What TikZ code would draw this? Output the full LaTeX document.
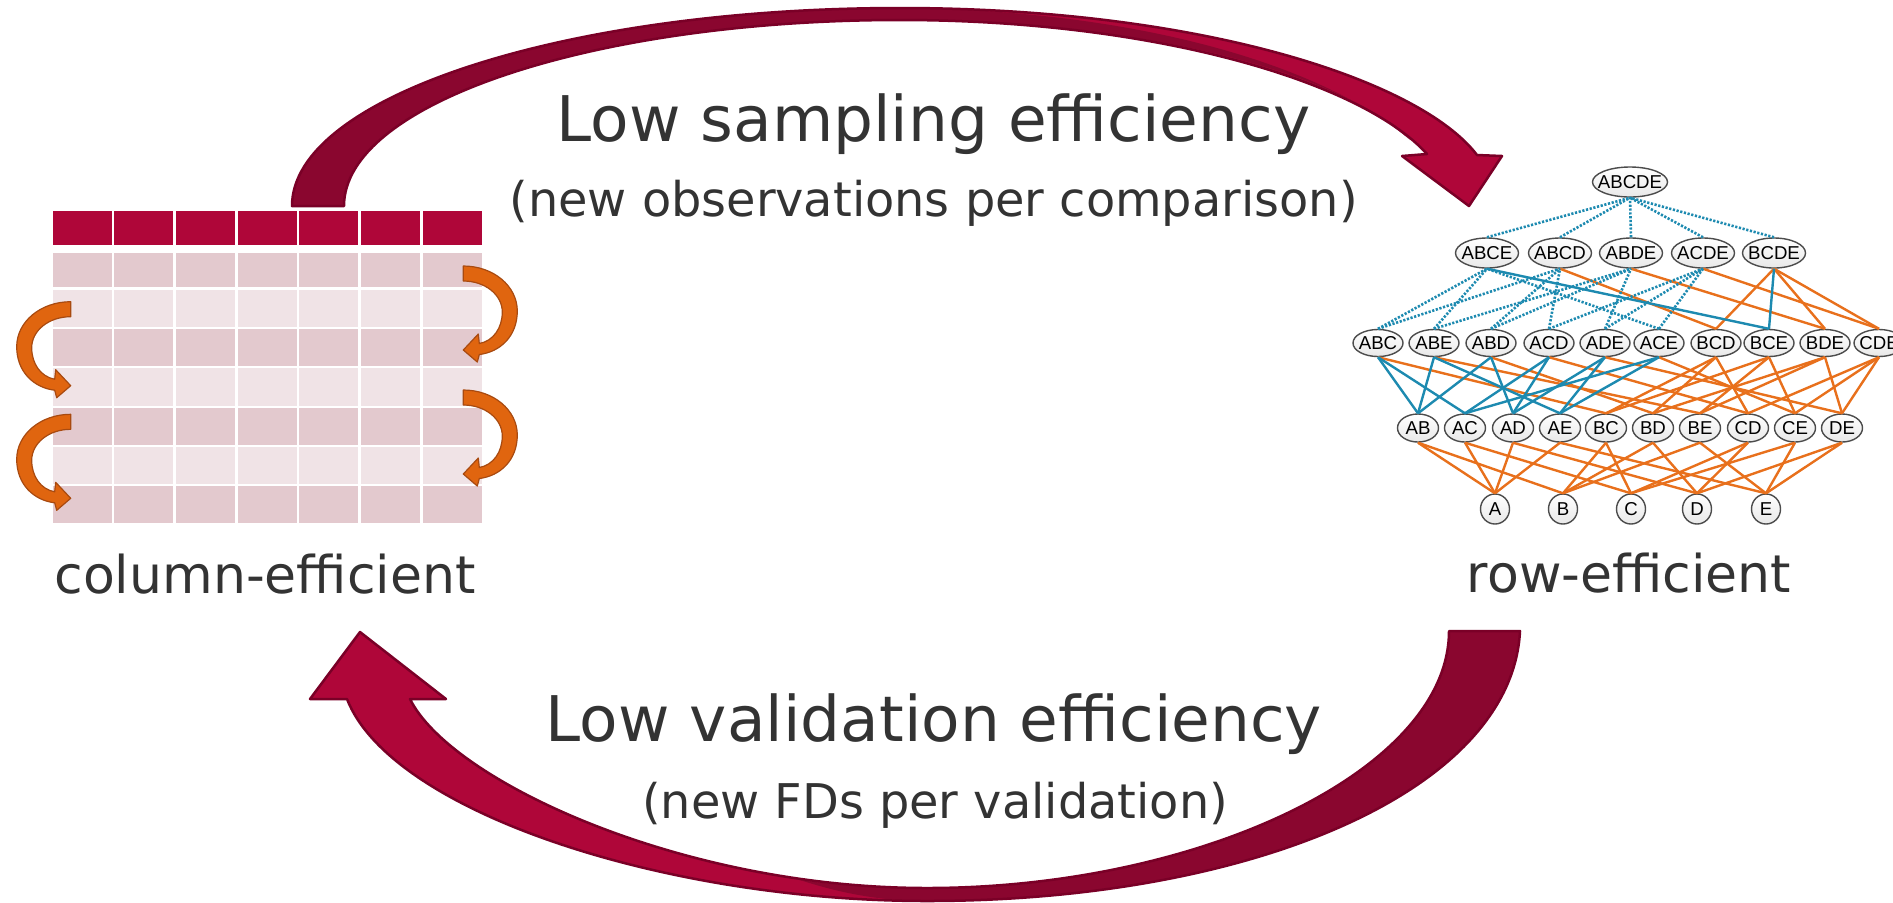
\documentclass[tikz,border=0pt]{standalone}
\usepackage{fontspec}
\setmainfont{DejaVu Sans}
\newfontfamily\latfont{Liberation Sans}
\usepackage{tikz}
\usetikzlibrary{shapes.geometric}
\definecolor{Crimson}{HTML}{AF0639}
\definecolor{CrimsonDark}{HTML}{8A062F}
\definecolor{CrimsonEdge}{HTML}{7A0027}
\definecolor{RowDark}{HTML}{E3C9CE}
\definecolor{RowLight}{HTML}{F0E3E6}
\definecolor{Turn}{HTML}{E0650F}
\definecolor{TurnEdge}{HTML}{A84A10}
\definecolor{LatOrange}{HTML}{E8701C}
\definecolor{LatBlue}{HTML}{1D8AB0}
\definecolor{TextGray}{HTML}{333333}
\newcommand{\lname}[1]{\makebox[0pt]{#1}}
\newcommand{\samplingarrow}{(292,206) .. controls (292,97) and (564,8) .. (900,8)
  .. controls (1200,8) and (1420,80) .. (1477,155) -- (1502,156) -- (1469,206)
  -- (1402,156) -- (1427,154) .. controls (1360,80) and (1150,20) .. (900,20)
  .. controls (593,20) and (344,103) .. (344,206) -- cycle}
\newcommand{\validationarrow}{(1520,631) .. controls (1512,790) and (1254,901) .. (927,901)
  .. controls (660,901) and (390,810) .. (347,699) -- (310,699) -- (360,632)
  -- (446,699) -- (410,699) .. controls (450,780) and (680,888) .. (927,888)
  .. controls (1200,888) and (1449,770) .. (1449,631) -- cycle}

\begin{document}
\begin{tikzpicture}[
  x=0.01cm, y=-0.01cm,
  every node/.style={inner sep=0pt, text=TextGray},
  bigtext/.style={font=\fontsize{17.9}{21}\selectfont, anchor=base},
  smalltext/.style={font=\fontsize{13.6}{16}\selectfont, anchor=base},
  sidetext/.style={font=\fontsize{14.8}{18}\selectfont, anchor=base},
  rim/.style={draw=CrimsonEdge, line width=0.025cm, line join=round},
  turn/.style={fill=Turn, draw=TurnEdge, line width=0.012cm, line join=round},
  latnode/.style={
    ellipse,
    draw=black!70,
    line width=0.014cm,
    top color=white,
    bottom color=black!9,
    text=black,
    font=\latfont\fontsize{5.3}{6}\selectfont
  },
  lat1/.style={latnode, minimum width=0.29cm, minimum height=0.30cm},
  lat2/.style={latnode, minimum width=0.41cm, minimum height=0.28cm},
  lat3/.style={latnode, minimum width=0.50cm, minimum height=0.27cm},
  lat4/.style={latnode, minimum width=0.63cm, minimum height=0.30cm},
  lat5/.style={latnode, minimum width=0.75cm, minimum height=0.30cm},
  oredge/.style={draw=LatOrange, line width=0.024cm},
  bledge/.style={draw=LatBlue, line width=0.024cm},
  dotedge/.style={draw=LatBlue, line width=0.026cm, dash pattern=on 0.022cm off 0.016cm}
]
\useasboundingbox (0,0) rectangle (1893,902);
\clip (0,0) rectangle (1893,902);

% Tableau
\foreach \c in {0,...,6}
  \fill[Crimson] (52.7+61.67*\c,211) rectangle (111.7+61.67*\c,245);
\foreach \ya/\yb/\tone in {252.7/287.3/RowDark, 289.6/326.8/RowLight,
    329/366.2/RowDark, 368.3/405.5/RowLight, 407.6/444.8/RowDark,
    447/484.2/RowLight, 486.3/522.7/RowDark}
  \foreach \c in {0,...,6}
    \fill[\tone] (52.7+61.67*\c,\ya) rectangle (111.7+61.67*\c,\yb);

% Petites flèches orange
\foreach \xa/\ya/\s in {70.7/301.7/1, 70.7/414.3/1, 463.3/266/-1, 463.3/390/-1}
  \filldraw[turn, shift={(\xa,\ya)}, xscale=\s]
    (0,0) .. controls (-30,0) and (-54,20) .. (-54,45)
    .. controls (-54,70) and (-37,86) .. (-16,88.5)
    -- (-14,96) -- (0,84) -- (-15,68) -- (-16,77.5)
    .. controls (-30,75) and (-39,62) .. (-39,46)
    .. controls (-39,29) and (-22,15) .. (0,15) -- cycle;

% Grande flèche du haut
\fill[Crimson] \samplingarrow;
\fill[CrimsonDark] (292,206) .. controls (292,97) and (564,8) .. (900,8)
  .. controls (1150,10) and (1330,70) .. (1410,140)
  .. controls (1345,75) and (1150,20) .. (900,20)
  .. controls (593,20) and (344,103) .. (344,206) -- cycle;
\draw[rim] \samplingarrow;

% Grande flèche du bas
\fill[Crimson] \validationarrow;
\fill[CrimsonDark] (1449,631) -- (1520,631)
  .. controls (1512,790) and (1254,901) .. (927,901)
  .. controls (880,901) and (840,893) .. (800,880)
  .. controls (840,886) and (885,888) .. (927,888)
  .. controls (1200,888) and (1449,770) .. (1449,631) -- cycle;
\draw[rim] \validationarrow;

% Textes
\node[bigtext] (low1) at (933.5,141) {Low sampling efficiency};
\node[smalltext] (sub1) at (933.5,216) {(new observations per comparison)};
\node[bigtext] (low2) at (934,741) {Low validation efficiency};
\node[smalltext] (sub2) at (935,818) {(new FDs per validation)};
\node[sidetext] (colname) at (265,593) {column-efficient};
\node[sidetext] (rowname) at (1629,592) {row-efficient};

% Treillis
\node[lat5] (ABCDE) at (1630,182) {\lname{ABCDE}};
\foreach \n/\xa in {ABCE/1487, ABCD/1560, ABDE/1631, ACDE/1703, BCDE/1774}
  \node[lat4] (\n) at (\xa,253) {\lname{\n}};
\foreach \n/\xa in {ABC/1378, ABE/1434, ABD/1491, ACD/1549, ADE/1605,
    ACE/1659, BCD/1716, BCE/1769, BDE/1825, CDE/1879}
  \node[lat3] (\n) at (\xa,343) {\lname{\n}};
\foreach \n/\xa in {AB/1418, AC/1465, AD/1513, AE/1560, BC/1606,
    BD/1653, BE/1700, CD/1748, CE/1795, DE/1842}
  \node[lat2] (\n) at (\xa,428) {\lname{\n}};
\foreach \n/\xa in {A/1495, B/1563, C/1631, D/1697, E/1766}
  \node[lat1] (\n) at (\xa,509) {\lname{\n}};

% Arêtes
\foreach \lo/\hi in {A/AB, A/AC, A/AD, A/AE, B/AB, B/BC, B/BD, B/BE,
    C/AC, C/BC, C/CD, C/CE, D/AD, D/BD, D/CD, D/DE, E/AE, E/BE, E/CE, E/DE,
    BC/ABC, BE/ABE, BD/ABD, CD/ACD, DE/ADE, CE/ACE, BC/BCD, BD/BCD, CD/BCD,
    BC/BCE, BE/BCE, CE/BCE, BD/BDE, BE/BDE, DE/BDE, CD/CDE, CE/CDE, DE/CDE,
    BCD/ABCD, BDE/ABDE, CDE/ACDE, BCD/BCDE, BDE/BCDE, CDE/BCDE}
  \draw[oredge] (\lo.north) -- (\hi.south);
\foreach \lo/\hi in {AB/ABC, AC/ABC, AB/ABE, AE/ABE, AB/ABD, AD/ABD,
    AC/ACD, AD/ACD, AD/ADE, AE/ADE, AC/ACE, AE/ACE, BCE/ABCE, BCE/BCDE}
  \draw[bledge] (\lo.north) -- (\hi.south);
\foreach \lo/\hi in {ABC/ABCE, ABE/ABCE, ACE/ABCE, ABC/ABCD, ABD/ABCD,
    ACD/ABCD, ABE/ABDE, ABD/ABDE, ADE/ABDE, ACD/ACDE, ADE/ACDE, ACE/ACDE,
    ABCE/ABCDE, ABCD/ABCDE, ABDE/ABCDE, ACDE/ABCDE, BCDE/ABCDE}
  \draw[dotedge] (\lo.north) -- (\hi.south);
\end{tikzpicture}
\end{document}
